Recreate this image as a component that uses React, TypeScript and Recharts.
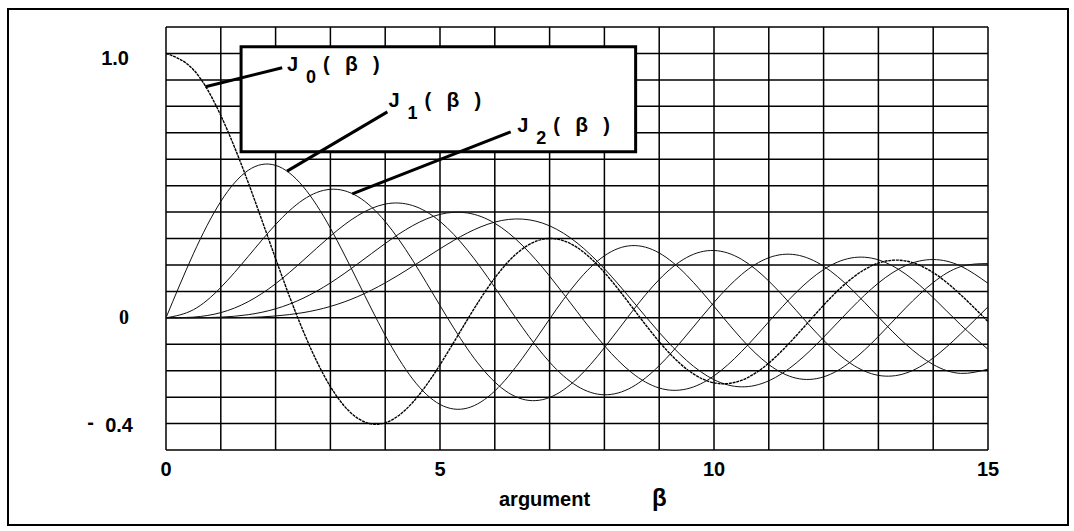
import { LineChart, Line, XAxis, YAxis, CartesianGrid, ReferenceArea, ReferenceLine, ReferenceDot } from "recharts";

// argument beta, sampled every 0.5
const BETA = [0, 0.5, 1, 1.5, 2, 2.5, 3, 3.5, 4, 4.5, 5, 5.5, 6, 6.5, 7, 7.5, 8, 8.5, 9, 9.5, 10, 10.5, 11, 11.5, 12, 12.5, 13, 13.5, 14, 14.5, 15];

const J0 = [1.0, 0.9385, 0.7652, 0.5118, 0.2239, -0.0484, -0.2601, -0.3801, -0.3971, -0.3205, -0.1776, -0.0068, 0.1506, 0.2601, 0.3001, 0.2663, 0.1717, 0.0419, -0.0903, -0.1939, -0.2459, -0.2366, -0.1712, -0.0677, 0.0477, 0.1469, 0.2069, 0.215, 0.1711, 0.0875, -0.0142];
const J1 = [0, 0.2423, 0.4401, 0.5579, 0.5767, 0.4971, 0.3391, 0.1374, -0.066, -0.2311, -0.3276, -0.3414, -0.2767, -0.1538, -0.0047, 0.1352, 0.2346, 0.2731, 0.2453, 0.1613, 0.0435, -0.0789, -0.1768, -0.2284, -0.2234, -0.1655, -0.0703, 0.038, 0.1334, 0.1934, 0.2051];
const J2 = [0, 0.0306, 0.1149, 0.2321, 0.3528, 0.4461, 0.4861, 0.4586, 0.3641, 0.2178, 0.0466, -0.1173, -0.2429, -0.3074, -0.3014, -0.2303, -0.113, 0.0223, 0.1448, 0.2279, 0.2546, 0.2216, 0.139, 0.0279, -0.0849, -0.1734, -0.2177, -0.2094, -0.152, -0.0609, 0.0416];
const J3 = [0, 0.0026, 0.0196, 0.061, 0.1289, 0.2166, 0.3091, 0.3868, 0.4302, 0.4247, 0.3648, 0.2561, 0.1148, -0.0354, -0.1676, -0.258, -0.2911, -0.2626, -0.1809, -0.0653, 0.0584, 0.1633, 0.2273, 0.2381, 0.1951, 0.11, 0.0033, -0.1, -0.1768, -0.2102, -0.194];
const J4 = [0, 0.0002, 0.0025, 0.0118, 0.034, 0.0738, 0.132, 0.2044, 0.2811, 0.3484, 0.3912, 0.3967, 0.3576, 0.2747, 0.1578, 0.0239, -0.1054, -0.2077, -0.2655, -0.2691, -0.2196, -0.1283, -0.015, 0.0963, 0.1825, 0.2262, 0.2193, 0.165, 0.0762, -0.0261, -0.1192];
const J5 = [0, 0, 0.0002, 0.0012, 0.007, 0.0195, 0.043, 0.0804, 0.1321, 0.1947, 0.2611, 0.3209, 0.3621, 0.3735, 0.3479, 0.2835, 0.1858, 0.0671, -0.055, -0.1613, -0.2341, -0.2611, -0.2383, -0.1711, -0.0735, 0.0348, 0.1316, 0.1978, 0.2204, 0.1958, 0.1304];

const X_TICKS = [0, 5, 10, 15];
const Y_TICKS = [-0.4, 0, 1.0];
const GRID_X = [0, 1, 2, 3, 4, 5, 6, 7, 8, 9, 10, 11, 12, 13, 14, 15];
const GRID_Y = [-0.5, -0.4, -0.3, -0.2, -0.1, 0, 0.1, 0.2, 0.3, 0.4, 0.5, 0.6, 0.7, 0.8, 0.9, 1.0, 1.1];

// callouts: label anchor, leader line from label to curve
const CALLOUTS = [
  { sub: "0", label: { x: 2.21, y: 0.934 }, from: { x: 2.12, y: 0.946 }, to: { x: 0.72, y: 0.874 } },
  { sub: "1", label: { x: 4.06, y: 0.798 }, from: { x: 4.04, y: 0.779 }, to: { x: 2.21, y: 0.555 } },
  { sub: "2", label: { x: 6.41, y: 0.703 }, from: { x: 6.29, y: 0.703 }, to: { x: 3.4, y: 0.469 } },
];

const data = BETA.map((b, i) => ({ beta: b, j0: J0[i], j1: J1[i], j2: J2[i], j3: J3[i], j4: J4[i], j5: J5[i] }));

const SANS = "'Liberation Sans', Arial, sans-serif";

const XTick = (props: any) => {
  const { x, y, payload } = props;
  return (
    <text x={x} y={y + 26} textAnchor="middle" fontFamily={SANS} fontWeight={700} fontSize={20} fill="#000">
      {payload.value}
    </text>
  );
};

const YTick = (props: any) => {
  const { x, y, payload } = props;
  const v = payload.value;
  if (v === 0) {
    return (
      <text x={x - 37} y={y + 6} textAnchor="end" fontFamily="'Liberation Serif', 'Times New Roman', serif" fontWeight={700} fontSize={20} fill="#000">
        0
      </text>
    );
  }
  if (v < 0) {
    return (
      <g>
        <text x={x - 72} y={y + 5} textAnchor="end" fontFamily={SANS} fontWeight={700} fontSize={20} fill="#000">-</text>
        <text x={x - 33} y={y + 8} textAnchor="end" fontFamily={SANS} fontWeight={700} fontSize={20} fill="#000">0.4</text>
      </g>
    );
  }
  return (
    <text x={x - 37} y={y + 12} textAnchor="end" fontFamily={SANS} fontWeight={700} fontSize={20} fill="#000">
      1.0
    </text>
  );
};

const calloutLabel = (sub: string) => (props: any) => {
  const { x, y } = props.viewBox;
  const t = { fontFamily: SANS, fontWeight: 700, fill: "#000" } as const;
  return (
    <g>
      <text x={x} y={y} fontSize={20} {...t}>J</text>
      <text x={x + 19} y={y + 12} fontSize={18} {...t}>{sub}</text>
      <text x={x + 36} y={y} fontSize={20} {...t}>(</text>
      <text x={x + 58} y={y} fontSize={21} {...t}>β</text>
      <text x={x + 86} y={y} fontSize={20} {...t}>)</text>
    </g>
  );
};

export default function App() {
  return (
    <div style={{ position: "absolute", left: 0, top: 0, width: 1074, height: 531, background: "#fff" }}>
      <div
        style={{
          position: "absolute",
          left: 7,
          top: 8,
          width: 1062,
          height: 518,
          border: "2px solid #000",
          boxSizing: "border-box",
        }}
      />
      <div style={{ position: "absolute", left: 0, top: 0 }}>
        <LineChart width={1074} height={531} data={data} margin={{ top: 27, right: 86, bottom: 41, left: 86 }}>
          <CartesianGrid horizontalValues={GRID_Y} verticalValues={GRID_X} stroke="#000" strokeWidth={1.5} />
          <XAxis
            dataKey="beta"
            type="number"
            domain={[0, 15]}
            ticks={X_TICKS}
            axisLine={false}
            tickLine={false}
            tickSize={0}
            tickMargin={0}
            height={40}
            tick={<XTick />}
            allowDataOverflow
          />
          <YAxis
            type="number"
            domain={[-0.5, 1.1]}
            ticks={Y_TICKS}
            axisLine={false}
            tickLine={false}
            tickSize={0}
            tickMargin={0}
            width={80}
            tick={<YTick />}
            allowDataOverflow
          />
          <ReferenceArea x1={1.37} x2={8.57} y1={0.628} y2={1.025} fill="#fff" fillOpacity={1} stroke="#000" strokeWidth={3} />
          <Line dataKey="j1" type="natural" stroke="#111" strokeWidth={1} dot={false} isAnimationActive={false} />
          <Line dataKey="j2" type="natural" stroke="#111" strokeWidth={1} dot={false} isAnimationActive={false} />
          <Line dataKey="j3" type="natural" stroke="#111" strokeWidth={1} dot={false} isAnimationActive={false} />
          <Line dataKey="j4" type="natural" stroke="#111" strokeWidth={1} dot={false} isAnimationActive={false} />
          <Line dataKey="j5" type="natural" stroke="#111" strokeWidth={1} dot={false} isAnimationActive={false} />
          <Line dataKey="j0" type="natural" stroke="#000" strokeWidth={1.4} strokeDasharray="3 0.8" dot={false} isAnimationActive={false} />
          {CALLOUTS.map((c) => (
            <ReferenceLine key={"l" + c.sub} segment={[c.from, c.to]} stroke="#000" strokeWidth={3} />
          ))}
          {CALLOUTS.map((c) => (
            <ReferenceDot key={"d" + c.sub} x={c.label.x} y={c.label.y} r={0} fill="none" stroke="none" label={calloutLabel(c.sub)} />
          ))}
        </LineChart>
      </div>
      <div
        style={{
          position: "absolute",
          left: 499,
          top: 487,
          fontFamily: SANS,
          fontWeight: 700,
          fontSize: 20,
          lineHeight: "24px",
          whiteSpace: "nowrap",
        }}
      >
        argument
      </div>
      <div
        style={{
          position: "absolute",
          left: 652,
          top: 483,
          fontFamily: SANS,
          fontWeight: 700,
          fontSize: 24,
          lineHeight: "30px",
        }}
      >
        β
      </div>
    </div>
  );
}
